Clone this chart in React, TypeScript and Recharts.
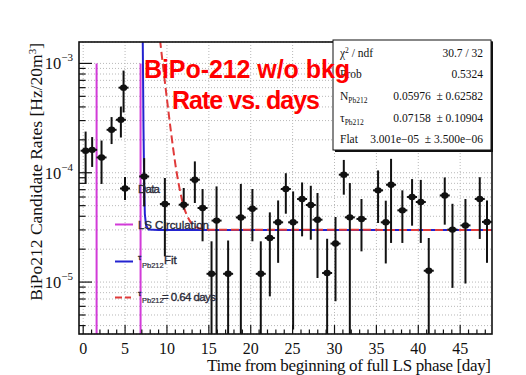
import { CartesianGrid, ComposedChart, ErrorBar, Line, ReferenceLine, Scatter, XAxis, YAxis } from 'recharts';

// measured BiPo-212 candidate rate per time bin (days since start of full LS phase)
const days = [
  0.29, 1.07, 2.19, 3.39, 4.5, 4.82, 7.28, 9.75, 12.0, 13.33, 14.25, 15.32, 15.92, 17.3, 18.82, 20.2, 21.2,
  22.28, 23.27, 24.19, 25.06, 26.13, 27.17, 27.97, 29.12, 30.12, 31.11, 31.83, 33.22, 35.2, 36.12, 36.75,
  38.1, 39.26, 40.3, 41.25, 43.16, 44.08, 45.63, 47.34, 48.2,
];
const rates = [
  1.59e-4, 1.62e-4, 1.38e-4, 2.47e-4, 3.05e-4, 6.0e-4, 9.25e-5, 5.18e-5, 5.1e-5, 8.63e-5, 4.76e-5, 1.19e-5,
  3.65e-5, 1.19e-5, 3.9e-5, 4.69e-5, 1.19e-5, 2.53e-5, 3.52e-5, 7.1e-5, 3.52e-5, 5.75e-5, 5.07e-5, 3.72e-5,
  1.21e-5, 2.25e-5, 9.6e-5, 3.91e-5, 3.78e-5, 6.9e-5, 3.52e-5, 7.77e-5, 4.53e-5, 6.0e-5, 5.4e-5, 1.27e-5,
  6.2e-5, 3.02e-5, 3.3e-5, 5.75e-5, 3.55e-5,
];
const upper = [
  2.38e-4, 2.12e-4, 1.97e-4, 3.23e-4, 4.03e-4, 8.6e-4, 1.36e-4, 8.95e-5, 7.25e-5, 1.27e-4, 7.1e-5, 2.36e-5,
  7.5e-5, 2.4e-5, 7.9e-5, 7.1e-5, 2.36e-5, 4.34e-5, 5.58e-5, 9.9e-5, 6.75e-5, 8.15e-5, 7.6e-5, 6.53e-5,
  2.49e-5, 3.94e-5, 1.31e-4, 8.05e-5, 5.75e-5, 1.05e-4, 5.55e-5, 1.34e-4, 6.9e-5, 8.75e-5, 8.6e-5, 2.53e-5,
  9.06e-5, 5.2e-5, 5.75e-5, 9.1e-5, 5.58e-5,
];
// null = lower edge runs off the bottom of the axis
const lower = [
  7.9e-5, 1.13e-4, 7.9e-5, 1.83e-4, 2.1e-4, 3.56e-4, 4.92e-5, 1.72e-5, 4.6e-5, 5.29e-5, 2.36e-5, null,
  null, null, null, 2.36e-5, null, 7.4e-6, 1.5e-5, 4.22e-5, 3.68e-6, 2.62e-5, 2.44e-5, 1.09e-5,
  null, 6.68e-6, 6.3e-5, null, 1.91e-5, 3.47e-5, 1.48e-5, 2.28e-5, 2.28e-5, 3.28e-5, 2.28e-5, null,
  3.35e-5, 8.85e-6, 9.7e-6, 2.48e-5, 1.5e-5,
];

// fit with free tau (N exp(-t/tau) + flat)
const fitDays = [7.1, 7.2, 7.28, 7.36, 7.5, 7.8, 9, 48.8];
const fitRates = [2e-3, 2.5e-4, 8e-5, 4.2e-5, 3.3e-5, 3.02e-5, 3.0e-5, 3.0e-5];

// curve with tau fixed to 0.64 days
const fixedDays = [9.0, 9.2, 9.5, 10, 10.5, 11, 11.5, 12, 12.5, 13, 14, 15, 48.8];
const fixedRates = [2.1e-3, 1.57e-3, 9.9e-4, 4.7e-4, 2.3e-4, 1.2e-4, 7.2e-5, 4.9e-5, 3.9e-5, 3.4e-5, 3.08e-5, 3.01e-5, 3.0e-5];

// LS circulation periods
const circulationDays = [1.6, 6.85];
const circulationTop = 1e-3;

const xDomain = [-0.5, 48.8];
const yDomain = [3.35e-6, 1.57e-3];
const dayTicks = Array.from({ length: 49 }, (_, i) => i);
const gridDays = [0, 5, 10, 15, 20, 25, 30, 35, 40, 45];
const rateTicks = [-6, -5, -4].flatMap((e) => [1, 2, 3, 4, 5, 6, 7, 8, 9].map((m) => m * 10 ** e))
  .filter((v) => v > yDomain[0])
  .concat([1e-3]);

const points = days.map((day, i) => {
  const lo = lower[i] ?? yDomain[0];
  return { day, v: rates[i], err: [rates[i] - lo, upper[i] - rates[i]] };
});
const fitLine = fitDays.map((day, i) => ({ day, v: fitRates[i] }));
const fixedLine = fixedDays.map((day, i) => ({ day, v: fixedRates[i] }));
const circulationLines = circulationDays.map((day) => [
  { day, v: circulationTop },
  { day, v: yDomain[0] },
]);

const SERIF = '"Liberation Serif", "Times New Roman", serif';
const SANS = '"Liberation Sans", Arial, sans-serif';
const MAGENTA = '#d23bd8';
const BLUE = '#2323d0';
const RED = '#e03a3a';
const INK = '#111';

const DayTick = ({ x, y, payload }: any) => {
  const major = payload.value % 5 === 0;
  return (
    <g>
      <line x1={x} x2={x} y1={y} y2={y - (major ? 9 : 4.5)} stroke={INK} strokeWidth={1.2} />
      {major && (
        <text x={x} y={y + 20} textAnchor="middle" fontFamily={SERIF} fontSize={16} fill={INK}>
          {payload.value}
        </text>
      )}
    </g>
  );
};

const RateTick = ({ x, y, payload }: any) => {
  const exp = Math.log10(payload.value);
  const major = Math.abs(exp - Math.round(exp)) < 1e-6;
  return (
    <g>
      <line x1={x} x2={x + (major ? 13 : 6.5)} y1={y} y2={y} stroke={INK} strokeWidth={1.2} />
      {major && (
        <text x={x - 6} y={y + 6} textAnchor="end" fontFamily={SERIF} fontSize={16.5} fill={INK}>
          10
          <tspan dy={-8} fontSize={11}>
            {`\u2212${-Math.round(exp)}`}
          </tspan>
        </text>
      )}
    </g>
  );
};

const DataPoint = ({ cx, cy }: any) => (
  <g>
    <line x1={cx - 5} x2={cx + 5} y1={cy} y2={cy} stroke={INK} strokeWidth={2} />
    <ellipse cx={cx} cy={cy} rx={3.6} ry={3.2} fill={INK} />
  </g>
);

const StatsBox = () => {
  const rows = [
    { y: 57, label: <>χ<tspan dy={-4} fontSize={7.5}>2</tspan><tspan dy={4}> / ndf</tspan></>, value: '30.7 / 32' },
    { y: 78, label: <>Prob</>, value: '0.5324' },
    { y: 100, label: <>N<tspan dy={3} fontSize={7.5}>Pb212</tspan></>, value: '0.05976  \u00b1 0.62582' },
    { y: 121.5, label: <>τ<tspan dy={3} fontSize={7.5}>Pb212</tspan></>, value: '0.07158  \u00b1 0.10904' },
    { y: 143, label: <>Flat</>, value: '3.001e\u221205  \u00b1 3.500e\u221206' },
  ];
  return (
    <g fontFamily={SERIF} fontSize={11.5} fill={INK}>
      <rect x={333} y={40} width={158} height={110} fill="#fff" stroke={INK} strokeWidth={1} />
      <line x1={492} x2={492} y1={42} y2={151.5} stroke={INK} strokeWidth={2} />
      <line x1={335} x2={493} y1={151} y2={151} stroke={INK} strokeWidth={2} />
      {rows.map((r) => (
        <g key={r.value}>
          <text x={340} y={r.y}>{r.label}</text>
          <text x={483} y={r.y} textAnchor="end" xmlSpace="preserve">{r.value}</text>
        </g>
      ))}
    </g>
  );
};

const LegendBlock = () => (
  <g fontFamily={SANS} fill="#2a2a38" stroke="#2a2a38" strokeWidth={0.35}>
    <line x1={125} x2={125} y1={177} y2={200} stroke={INK} strokeWidth={2} />
    <line x1={120} x2={130} y1={188.5} y2={188.5} stroke={INK} strokeWidth={2} />
    <ellipse cx={125} cy={188.5} rx={3.6} ry={3.2} fill={INK} stroke="none" />
    <text x={138} y={193} fontSize={11.5} textLength={22}>Data</text>

    <line x1={115} x2={133} y1={224.5} y2={224.5} stroke={MAGENTA} strokeWidth={2} />
    <text x={138} y={229} fontSize={11.5} textLength={71}>LS Circulation</text>

    <line x1={115} x2={133} y1={261.5} y2={261.5} stroke={BLUE} strokeWidth={2} />
    <text x={138} y={260} fontSize={8}>τ</text>
    <text x={142} y={267.5} fontSize={7.5} strokeWidth={0.2}>Pb212</text>
    <text x={164} y={263.5} fontSize={11.5}>Fit</text>

    <line x1={115} x2={131} y1={297.5} y2={297.5} stroke={RED} strokeWidth={2} strokeDasharray="7 3" />
    <text x={138} y={296} fontSize={8}>τ</text>
    <text x={142} y={303} fontSize={7.5} strokeWidth={0.2}>Pb212</text>
    <text x={162} y={300.5} fontSize={11.5} textLength={54}>= 0.64 days</text>
  </g>
);

export default function App() {
  return (
    <div style={{ position: 'absolute', left: 0, top: 0, width: 526, height: 375, background: '#fff' }}>
      <ComposedChart width={526} height={375} margin={{ top: 42, right: 34, bottom: 11, left: 0 }}>
        <CartesianGrid vertical={false} stroke="#b8b8b8" strokeDasharray="1 2" />
        {gridDays.map((d) => (
          <ReferenceLine key={d} x={d} stroke="#b8b8b8" strokeDasharray="1 2" />
        ))}
        <XAxis
          type="number"
          dataKey="day"
          domain={xDomain}
          allowDataOverflow
          ticks={dayTicks}
          interval={0}
          tick={(p: any) => <DayTick {...p} />}
          tickSize={0}
          tickMargin={0}
          axisLine={false}
          tickLine={false}
          height={30}
        />
        <YAxis
          type="number"
          dataKey="v"
          scale="log"
          domain={yDomain}
          allowDataOverflow
          ticks={rateTicks}
          interval={0}
          tick={(p: any) => <RateTick {...p} />}
          tickSize={0}
          tickMargin={0}
          axisLine={false}
          tickLine={false}
          width={79}
        />
        {circulationLines.map((seg, i) => (
          <Line
            key={i}
            data={seg}
            dataKey="v"
            stroke={MAGENTA}
            strokeWidth={2}
            dot={false}
            isAnimationActive={false}
          />
        ))}
        <Line data={fitLine} dataKey="v" stroke={BLUE} strokeWidth={2} dot={false} isAnimationActive={false} />
        <Line
          data={fixedLine}
          dataKey="v"
          type="monotone"
          stroke={RED}
          strokeWidth={2}
          strokeDasharray="8 4"
          dot={false}
          isAnimationActive={false}
        />
        <Scatter data={points} dataKey="v" shape={<DataPoint />} isAnimationActive={false}>
          <ErrorBar dataKey="err" direction="y" width={0} stroke={INK} strokeWidth={2} isAnimationActive={false} />
        </Scatter>
      </ComposedChart>

      <svg width={526} height={375} style={{ position: 'absolute', left: 0, top: 0, pointerEvents: 'none' }}>
        <rect x={79} y={42} width={413} height={292} fill="none" stroke={INK} strokeWidth={1.6} />
        <text
          transform="translate(42, 43) rotate(-90)"
          textAnchor="end"
          fontFamily={SERIF}
          fontSize={17.5}
          fill={INK}
        >
          BiPo212 Candidate Rates [Hz/20m<tspan dy={-6} fontSize={11}>3</tspan>
          <tspan dy={6}>]</tspan>
        </text>
        <text x={491} y={371} textAnchor="end" fontFamily={SERIF} fontSize={17} textLength={284} fill={INK}>
          Time from beginning of full LS phase [day]
        </text>
        <StatsBox />
        <LegendBlock />
        <g fontFamily={SANS} fontWeight="bold" fontSize={25} fill="#ff0000">
          <text x={144} y={77.5} textLength={206}>BiPo-212 w/o bkg</text>
          <text x={172} y={108.5} textLength={148}>Rate vs. days</text>
        </g>
      </svg>
    </div>
  );
}
